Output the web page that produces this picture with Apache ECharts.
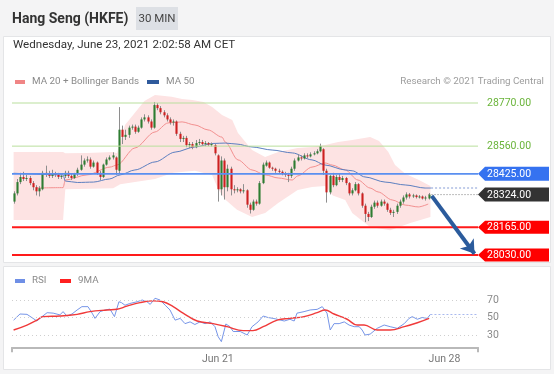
<!DOCTYPE html>
<html><head><meta charset="utf-8">
<script src="https://cdn.jsdelivr.net/npm/echarts@6/dist/echarts.min.js"></script>
<style>html,body{margin:0;padding:0;background:#f4f4f5;}#c{width:554px;height:374px;}</style>
</head><body><div id="c"></div>
<script>
// ---------- texts ----------
const titleText = 'Hang Seng (HKFE)';
const timeframeText = '30 MIN';
const timestampText = 'Wednesday, June 23, 2021 2:02:58 AM CET';
const legendMain = ['MA 20 + Bollinger Bands', 'MA 50'];
const legendRsi = ['RSI', '9MA'];
const creditText = 'Research \u00a9 2021 Trading Central';

// ---------- x axis ----------
const slotCount = 146;               // bar slots incl. empty future area
const xTickPos = [64, 135];
const xTickText = ['Jun 21', 'Jun 28'];

// ---------- candles [open, close, low, high] ----------
const candles = [
[28290,28330,28280,28340],[28330,28385,28320,28400],[28385,28410,28375,28430],[28410,28400,28390,28435],
[28400,28405,28390,28420],[28405,28380,28370,28415],[28380,28360,28345,28390],[28360,28340,28320,28370],
[28340,28355,28315,28365],[28350,28430,28345,28440],[28430,28425,28410,28465],[28425,28415,28405,28440],
[28415,28425,28405,28445],[28425,28420,28410,28435],[28420,28410,28400,28430],[28410,28415,28400,28425],
[28415,28430,28405,28440],[28430,28415,28405,28440],[28415,28405,28395,28425],[28405,28425,28400,28430],
[28425,28445,28415,28455],[28445,28470,28440,28515],[28470,28490,28460,28500],[28490,28495,28480,28510],
[28495,28460,28450,28505],[28460,28480,28455,28490],[28480,28430,28420,28485],[28430,28410,28395,28440],
[28410,28470,28405,28475],[28470,28495,28465,28505],[28495,28505,28490,28515],[28505,28515,28495,28530],
[28505,28445,28420,28510],[28440,28640,28425,28750],[28640,28605,28570,28660],[28605,28615,28590,28640],
[28615,28650,28600,28660],[28650,28655,28640,28665],[28655,28630,28620,28665],[28630,28650,28625,28660],
[28650,28690,28645,28700],[28690,28700,28680,28715],[28700,28680,28670,28710],[28680,28650,28640,28690],
[28650,28760,28645,28775],[28760,28745,28735,28770],[28745,28725,28715,28755],[28725,28710,28700,28735],
[28710,28690,28680,28720],[28690,28675,28665,28700],[28675,28680,28660,28690],[28680,28620,28610,28685],
[28620,28595,28580,28630],[28595,28600,28580,28610],[28600,28565,28555,28610],[28565,28570,28550,28580],
[28570,28555,28545,28580],[28555,28575,28550,28590],[28575,28580,28565,28595],[28580,28570,28560,28590],
[28570,28575,28560,28585],[28575,28568,28560,28580],[28568,28570,28558,28578],[28565,28525,28515,28570],
[28515,28350,28290,28520],[28350,28490,28320,28510],[28490,28360,28300,28500],[28360,28450,28340,28470],
[28450,28350,28320,28460],[28350,28345,28330,28370],[28345,28350,28335,28360],[28350,28340,28330,28355],
[28340,28345,28330,28375],[28345,28275,28260,28350],[28275,28250,28232,28285],[28250,28290,28245,28300],
[28290,28280,28270,28300],[28280,28380,28275,28390],[28380,28470,28375,28480],[28465,28480,28460,28490],
[28480,28455,28450,28485],[28455,28450,28440,28460],[28450,28440,28430,28455],[28440,28435,28425,28450],
[28435,28428,28418,28442],[28428,28420,28410,28435],[28420,28415,28385,28430],[28415,28450,28405,28460],
[28450,28490,28440,28500],[28490,28505,28485,28520],[28505,28500,28490,28515],[28500,28515,28495,28525],
[28515,28510,28500,28525],[28510,28520,28505,28530],[28520,28525,28515,28535],[28525,28535,28520,28545],
[28535,28560,28530,28572],[28545,28440,28420,28550],[28440,28335,28285,28450],[28335,28415,28325,28420],
[28415,28370,28360,28430],[28370,28410,28365,28420],[28410,28395,28385,28425],[28395,28405,28385,28415],
[28405,28380,28370,28410],[28380,28330,28320,28385],[28330,28345,28320,28355],[28345,28375,28340,28385],
[28375,28330,28320,28380],[28330,28270,28260,28335],[28270,28230,28190,28280],[28230,28215,28195,28240],
[28215,28265,28210,28275],[28265,28285,28255,28295],[28285,28270,28260,28295],[28270,28290,28265,28300],
[28290,28280,28270,28300],[28280,28250,28240,28285],[28250,28235,28225,28260],[28235,28240,28215,28250],
[28240,28270,28230,28280],[28270,28290,28260,28300],[28290,28310,28280,28320],[28310,28325,28300,28335],
[28325,28315,28305,28332],[28315,28320,28308,28328],[28320,28312,28305,28325],[28312,28315,28305,28322],
[28315,28305,28300,28320],[28305,28310,28295,28318],[28305,28324,28300,28332]
];

// ---------- indicators [barIndex, value] ----------
const ma20 = [[7,28356],[15.5,28358],[16.2,28395],[23,28420],[30.2,28458],[32.4,28468],[38,28551],[44.3,28629],
[48.4,28673],[52.8,28678],[56.8,28663],[60.9,28639],[65.3,28604],[66.3,28580],[70.3,28493],[74.7,28444],
[78.8,28420],[82.9,28405],[87.3,28395],[89,28415],[93.5,28458],[97.6,28478],[99.8,28468],[103.9,28444],
[107.9,28395],[111.7,28356],[114.2,28337],[118.6,28298],[122.7,28273],[126.8,28264],[129.9,28278]];
const ma50 = [[0,28428],[15.5,28420],[16.2,28390],[20,28383],[25,28385],[30,28400],[33.4,28420],[38,28444],
[44.3,28483],[50.6,28531],[56.8,28556],[62.5,28573],[66.3,28575],[70,28570],[74.7,28556],[81,28541],
[87.3,28527],[93.5,28493],[97.6,28468],[103.9,28444],[106.1,28440],[110.1,28410],[116.4,28385],
[122.7,28371],[128.9,28356],[130.8,28356]];
const bbUpper = [[0,28531],[15.5,28531],[16.2,28525],[23,28527],[31.2,28531],[32.4,28525],[34.9,28663],
[41,28780],[44.3,28809],[49.5,28800],[52.8,28790],[56,28785],[59.5,28775],[62.2,28750],[65.3,28712],
[68.5,28687],[70.3,28624],[74.7,28541],[78.8,28507],[82.9,28531],[89,28551],[93.5,28556],[97.6,28566],
[101.7,28580],[106.1,28590],[111.7,28604],[114.5,28585],[117.4,28531],[119.5,28468],[122.7,28425],
[127,28395],[130.6,28366]];
const bbLower = [[0,28200],[15.5,28200],[16.2,28350],[31.2,28355],[33.4,28375],[38,28385],[44.3,28400],
[50,28430],[56.8,28440],[62.2,28420],[64.1,28350],[66.3,28300],[70,28250],[74.7,28215],[78.8,28234],
[82.9,28283],[89,28346],[93.5,28361],[97.6,28366],[100,28320],[103.9,28298],[106.1,28234],[111.7,28166],
[118,28150],[124.3,28186],[130.6,28215]];

// ---------- key levels ----------
const levelPrices = [28770, 28560, 28425, 28324, 28165, 28030];
const levelKinds  = ['res', 'res', 'pivot', 'last', 'sup', 'sup'];
const ma50Last = 28356;
const arrowFrom = [131, 28318];
const arrowTo = [144.4, 28036];

// ---------- RSI ----------
const rsi = [[0,47],[2,54],[4.2,53.6],[6.1,49],[7.3,46],[8.9,51],[10.5,55.5],[12.4,55],[14.5,53],[15.5,56.7],
[16.7,51.7],[18.3,54],[19.9,58.6],[21.4,62.4],[23.3,62.4],[24.6,55],[25.5,49],[27.1,56.7],[28.7,58.6],
[30.2,59.6],[31.6,51],[33,68],[33.8,67],[34.9,64],[36.4,66],[38.7,68],[40.3,70],[41.8,68],[42.8,65],
[44.3,72],[45.9,70],[47.5,64],[49,58.6],[50.6,47],[52.2,49],[53.7,43],[55.3,45],[56.8,42],[58.4,45],
[60,43],[61.6,45],[63.1,39.5],[64.1,28],[65.1,22.4],[66.5,42.6],[67.8,39.5],[68.8,34],[71,34],[73.2,30],
[74.7,39.5],[76.6,45],[78.2,51.7],[79.7,50],[81.3,49],[82.6,48],[84.8,46],[86.6,48],[87.9,46],[88.8,55],
[91,56.7],[92.9,58.6],[95.1,59.3],[96.7,62.4],[97.3,64],[98.2,55],[99.2,35.7],[100.4,43],[102,43],
[103.6,45],[105.1,41.4],[106.7,39.5],[108.3,39.5],[109.2,35.7],[110.1,30],[111.7,31],[113.9,37.6],
[116.1,41.4],[118,39.5],[120.2,37.6],[122.4,43],[123.9,49],[124.9,51],[126.5,48],[128,50],[129.6,49],
[130.6,53.6]];
const rsiMa = [[0,35.7],[4.2,41.4],[7.3,47],[9.2,51],[14.5,51.7],[19.9,53.6],[23.9,56.7],[29.3,58.6],
[32.4,59.4],[35.5,63],[39.6,67],[43.7,69],[46.8,68],[50,62.4],[53.1,55],[57.5,46],[62.5,43],[66.9,39.5],
[71.9,35],[75,35],[78.2,39.5],[82.6,47],[86.6,49],[91,51],[95.1,55.5],[97.6,58.6],[100.4,54],[104.5,48],
[107.6,41.4],[109.8,41.4],[113.9,35.7],[118,35.7],[122.4,39.5],[126.5,44],[130.2,49]];
const rsiLevels = [70, 50, 30];
const rsiLast = 53.6;

// ---------- styles ----------
const FONT = 'Roboto, "Liberation Sans", Arial, sans-serif';
const levelStyles = {
  res:   {line:'#b9df9d', width:1, text:'#6ab43a'},
  pivot: {line:'#5a8ff0', width:1.8, box:'#3572f0', h:7},
  last:  {line:'#7a7a7a', width:1, dash:[1,2], box:'#333333', h:7},
  sup:   {line:'#ff1a1a', width:2, box:'#ff0000', h:6.5}
};

const chart = echarts.init(document.getElementById('c'), null, {renderer:'canvas'});

function renderCandle(params, api) {
  const i = api.value(0), o = api.value(1), c = api.value(2), l = api.value(3), h = api.value(4);
  const pO = api.coord([i, o]), pC = api.coord([i, c]), pL = api.coord([i, l]), pH = api.coord([i, h]);
  const w = api.size([1, 0])[0] * 0.66;
  const x = Math.round(pO[0]) + 0.5;
  const top = Math.min(pO[1], pC[1]), bot = Math.max(pO[1], pC[1]);
  return {type:'group', children:[
    {type:'line', shape:{x1:x, y1:pH[1], x2:x, y2:pL[1]}, style:{stroke:'#8e8e8e', lineWidth:1}},
    {type:'rect', shape:{x:x - w/2, y:top, width:w, height:Math.max(bot - top, 1)},
     style:{fill: c >= o ? '#2e7d32' : '#cc2020'}}
  ]};
}

function renderBand(params, api) {
  const pts = bbUpper.map(p => api.coord(p)).concat(bbLower.slice().reverse().map(p => api.coord(p)));
  return {type:'polygon', shape:{points:pts}, style:{fill:'#fde3e3'}};
}

function renderLevel(params, api) {
  const p = api.value(1), k = api.value(2);
  const kind = levelKinds[k];
  const st = levelStyles[kind];
  const cs = params.coordSys;
  const y = api.coord([0, p])[1];
  const xr = cs.x + cs.width;
  const x1 = kind === 'last' ? api.coord([candles.length - 1, p])[0] : cs.x;
  const label = p.toFixed(2);
  const ch = [{type:'line', shape:{x1:x1, y1:y, x2:xr, y2:y},
               style:{stroke:st.line, lineWidth:st.width, lineDash:st.dash || null}}];
  if (st.box) {
    ch.push({type:'polygon', shape:{points:[[xr, y], [xr + 7, y - st.h], [xr + 71, y - st.h], [xr + 71, y + st.h], [xr + 7, y + st.h]]},
             style:{fill:st.box}});
    ch.push({type:'text', style:{text:label, x:xr + 9, y:y + 0.5, verticalAlign:'middle', fill:'#ffffff',
             fontSize:10.5, fontFamily:FONT}});
  } else {
    ch.push({type:'text', style:{text:label, x:xr + 9, y:y + 0.5, verticalAlign:'middle', fill:st.text,
             fontSize:10.5, fontFamily:FONT}});
  }
  return {type:'group', children:ch};
}

const gfx = [
  {type:'rect', shape:{x:3.5, y:36.5, width:547, height:226}, style:{fill:'#ffffff', stroke:'#e4e5e7'}, z:-10},
  {type:'rect', shape:{x:3.5, y:266.5, width:547, height:103}, style:{fill:'#ffffff', stroke:'#e4e5e7'}, z:-10},
  {type:'text', style:{text:titleText, x:12, y:19.5, verticalAlign:'middle', fontSize:14, fontWeight:'bold', fontFamily:FONT, fill:'#333333'}},
  {type:'rect', shape:{x:136, y:7, width:42, height:23}, style:{fill:'#dde0e5'}},
  {type:'text', style:{text:timeframeText, x:157, y:19, align:'center', verticalAlign:'middle', fontSize:11.5, fontFamily:FONT, fill:'#444444'}},
  {type:'text', style:{text:timestampText, x:13, y:45.5, verticalAlign:'middle', fontSize:11.6, fontFamily:FONT, fill:'#333333'}},
  {type:'rect', shape:{x:15, y:80, width:10, height:4}, style:{fill:'#f08585'}},
  {type:'text', style:{text:legendMain[0], x:32, y:82, verticalAlign:'middle', fontSize:9.8, fontFamily:FONT, fill:'#8a8a8a'}},
  {type:'rect', shape:{x:147, y:80, width:12, height:4}, style:{fill:'#2f5a9c'}},
  {type:'text', style:{text:legendMain[1], x:166, y:82, verticalAlign:'middle', fontSize:9.8, fontFamily:FONT, fill:'#8a8a8a'}},
  {type:'text', style:{text:creditText, x:544, y:82, align:'right', verticalAlign:'middle', fontSize:9.8, fontFamily:FONT, fill:'#9d9d9d'}},
  {type:'rect', shape:{x:15, y:279, width:10, height:4}, style:{fill:'#6f8fe6'}},
  {type:'text', style:{text:legendRsi[0], x:32, y:281, verticalAlign:'middle', fontSize:9.8, fontFamily:FONT, fill:'#8a8a8a'}},
  {type:'rect', shape:{x:60, y:279, width:11, height:4}, style:{fill:'#ff2020'}},
  {type:'text', style:{text:legendRsi[1], x:78, y:281, verticalAlign:'middle', fontSize:9.8, fontFamily:FONT, fill:'#8a8a8a'}}
];

const xCommon = {type:'value', min:-0.5, max:slotCount - 0.5};

chart.setOption({
  animation:false,
  backgroundColor:'#f4f4f5',
  graphic:gfx,
  grid:[
    {left:12, right:76, top:90.676, height:170.486},
    {left:12, right:76, top:282.5, height:64.75}
  ],
  xAxis:[
    Object.assign({gridIndex:0, show:false}, xCommon),
    Object.assign({gridIndex:1,
      axisLine:{show:true, onZero:false, lineStyle:{color:'#b9b9b9', width:2}},
      axisTick:{show:true, customValues:[-0.5, slotCount - 0.5], length:5, lineStyle:{color:'#b9b9b9', width:2}},
      axisLabel:{show:true, customValues:xTickPos, margin:7, color:'#777777', fontSize:10.5, fontFamily:FONT,
        formatter:v => xTickText[xTickPos.indexOf(Math.round(v))] || ''},
      splitLine:{show:false}}, xCommon)
  ],
  yAxis:[
    {gridIndex:0, type:'value', min:28000, max:28830, show:false},
    {gridIndex:1, type:'value', min:16, max:90, show:false}
  ],
  series:[
    {type:'custom', name:'bb', xAxisIndex:0, yAxisIndex:0, renderItem:renderBand, data:[[0, 28400]],
     encode:{x:0, y:1}, z:1, silent:true},
    {type:'line', name:'MA 20', xAxisIndex:0, yAxisIndex:0, data:ma20, showSymbol:false, smooth:0.3,
     smoothMonotone:'x', lineStyle:{color:'#f39090', width:1}, z:2, silent:true},
    {type:'line', name:'MA 50', xAxisIndex:0, yAxisIndex:0, data:ma50, showSymbol:false, smooth:0.3,
     smoothMonotone:'x', lineStyle:{color:'#5c7fc0', width:1}, z:2, silent:true,
     markLine:{silent:true, symbol:['none','none'], label:{show:false}, animation:false,
       data:[
         [{coord:[ma50[ma50.length-1][0], ma50Last], lineStyle:{color:'#aebde3', width:1.5, type:[2,2]}},
          {coord:[slotCount - 0.5, ma50Last]}]
       ]}},
    {type:'custom', name:'candles', xAxisIndex:0, yAxisIndex:0, renderItem:renderCandle,
     data:candles.map((c, i) => [i, c[0], c[1], c[2], c[3]]), encode:{x:0, y:[1,2,3,4]}, z:3, silent:true},
    {type:'custom', name:'levels', xAxisIndex:0, yAxisIndex:0, renderItem:renderLevel,
     data:levelPrices.map((p, k) => [0, p, k]), encode:{x:0, y:1}, z:4, silent:true, clip:false},
    {type:'line', name:'arrow', xAxisIndex:0, yAxisIndex:0, data:[], z:5, silent:true,
     markLine:{silent:true, symbol:['none','arrow'], symbolSize:13, label:{show:false}, animation:false,
       lineStyle:{color:'#2b5b9c', width:4, type:'solid'},
       data:[[{coord:arrowFrom}, {coord:arrowTo}]]}},
    {type:'line', name:'RSI', xAxisIndex:1, yAxisIndex:1, data:rsi, showSymbol:false,
     lineStyle:{color:'#7695e8', width:1}, z:3, silent:true,
     markLine:{silent:true, symbol:['none','none'], animation:false,
       label:{show:true, position:'end', distance:9, color:'#8a8a8a', fontSize:10.5, fontFamily:FONT},
       lineStyle:{color:'#cfcfcf', width:1, type:[1,3]},
       data: rsiLevels.map(v => ({yAxis:v})).concat([
         [{coord:[rsi[rsi.length-1][0], rsiLast], label:{show:false}, lineStyle:{color:'#a9b9ef', width:1, type:[2,2]}},
          {coord:[slotCount - 0.5, rsiLast]}]
       ])}},
    {type:'line', name:'9MA', xAxisIndex:1, yAxisIndex:1, data:rsiMa, showSymbol:false, smooth:0.4,
     lineStyle:{color:'#f03a3a', width:1.4}, z:4, silent:true}
  ]
});
</script></body></html>
